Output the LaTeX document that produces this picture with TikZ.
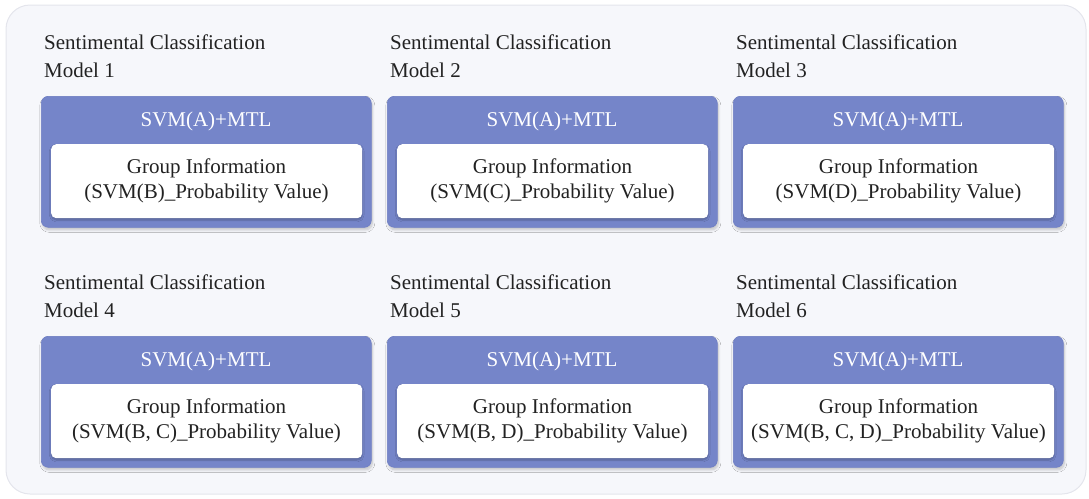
\documentclass[tikz,border=0pt]{standalone}
\usepackage{fontspec}
\setmainfont{Liberation Serif}
\usetikzlibrary{shadows.blur}
\definecolor{panelbg}{HTML}{F6F7FB}
\definecolor{panelline}{HTML}{E4E5EC}
\definecolor{modelfill}{HTML}{7585C9}
\definecolor{modelline}{HTML}{6F7FC5}
\definecolor{textdark}{HTML}{222222}
\tikzset{
  panel/.style={draw=panelline, line width=1pt, fill=panelbg, rounded corners=24pt},
  modelbox/.style={draw=modelline, line width=0.6pt, fill=modelfill, rounded corners=7pt,
    minimum width=330pt, minimum height=131pt, anchor=north west, inner sep=0pt,
    blur shadow={shadow xshift=1pt, shadow yshift=-2.5pt, shadow blur radius=2.5pt,
      shadow blur steps=8, shadow opacity=22}},
  infobox/.style={fill=white, rounded corners=5pt, minimum width=311pt, minimum height=74pt,
    anchor=north west, inner sep=0pt,
    blur shadow={shadow xshift=0pt, shadow yshift=-1.8pt, shadow blur radius=1.8pt,
      shadow blur steps=6, shadow opacity=25}},
  infotext/.style={text=textdark, align=center, font=\fontsize{21}{25}\selectfont},
  headtext/.style={text=white, font=\fontsize{21}{24}\selectfont},
  caption/.style={text=textdark, anchor=west, inner sep=0pt, font=\fontsize{21}{24}\selectfont},
}
\begin{document}
\begin{tikzpicture}[x=1pt, y=-1pt]
  \useasboundingbox (0,0) rectangle (1089,498);
  \draw[panel] (6,5) rectangle (1086,494);
  \foreach \i/\xo/\yo/\grp in {
      1/41/96/{B},
      2/387/96/{C},
      3/733/96/{D},
      4/41/336/{B, C},
      5/387/336/{B, D},
      6/733/336/{B, C, D}} {
    \node[caption] (cap\i a) at (\xo+3, \yo-54) {Sentimental Classification};
    \node[caption] (cap\i b) at (\xo+3, \yo-26) {Model \i};
    \node[modelbox] (model\i) at (\xo, \yo) {};
    \node[headtext] (head\i) at (\xo+165, \yo+25) {SVM(A)+MTL};
    \node[infobox] (info\i) at (\xo+10, \yo+48) {};
    \node[infotext] (infot\i) at (\xo+165.5, \yo+85) {Group Information\\(SVM(\grp)\_Probability Value)};
  }
\end{tikzpicture}
\end{document}
